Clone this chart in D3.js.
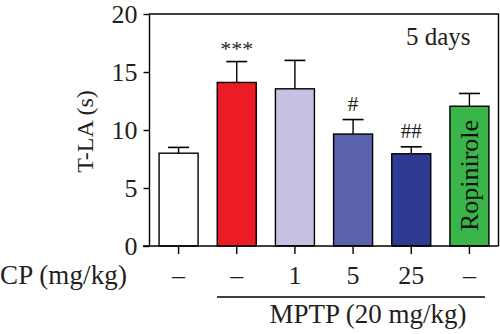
<!DOCTYPE html>
<html><head><meta charset="utf-8">
<script src="https://cdn.jsdelivr.net/npm/d3@7"></script>
<style>html,body{margin:0;padding:0;background:#fff;}svg{display:block;font-family:"Liberation Serif","DejaVu Serif",serif;}</style>
</head><body><svg id="c" width="500" height="334"></svg>
<script>
const groups = ["ctrl","mptp","cp1","cp5","cp25","ropi"];
const means = [8.0, 14.1, 13.55, 9.65, 7.95, 12.05];
const errs = [0.5, 1.8, 2.45, 1.25, 0.6, 1.1];
const colors = ["#ffffff","#ed1c24","#c5c3e1","#5a62ab","#2e3b92","#3ab54a"];
const cpLabels = ["–","–","1","5","25","–"];
const marks = ["","***","","#","##",""];
const yTicks = [0,5,10,15,20];

const svg = d3.select("#c");
const L=149.5, R=498.5, T=14, B=246;
const x = d3.scaleBand().domain(groups).range([L,R]).paddingInner(0).paddingOuter(0);
const y = d3.scaleLinear().domain([0,20]).range([B,T]);
const bw = 39;
const cx = g => x(g)+x.bandwidth()/2;
const ink = "#231f20";

// bars
svg.selectAll("rect.bar").data(groups).join("rect")
  .attr("x", g=>cx(g)-bw/2).attr("y",(g,i)=>y(means[i]))
  .attr("width",bw).attr("height",(g,i)=>B-y(means[i]))
  .attr("fill",(g,i)=>colors[i]).attr("stroke","#000").attr("stroke-width",1.4);

// error bars
groups.forEach((g,i)=>{
  const top=y(means[i]+errs[i]);
  svg.append("line").attr("x1",cx(g)).attr("x2",cx(g)).attr("y1",y(means[i])).attr("y2",top).attr("stroke","#000").attr("stroke-width",1.4);
  svg.append("line").attr("x1",cx(g)-10.5).attr("x2",cx(g)+10.5).attr("y1",top).attr("y2",top).attr("stroke","#000").attr("stroke-width",1.6);
});

// y axis
const ya = svg.append("g").attr("transform",`translate(${L},0)`)
  .call(d3.axisLeft(y).tickValues(yTicks).tickSize(6).tickPadding(6));
ya.select(".domain").remove();
ya.selectAll("line").attr("stroke","#000").attr("stroke-width",1.4);
ya.selectAll("text").attr("font-size",26).attr("font-family","Liberation Serif").attr("fill",ink);

// x axis ticks
const xa = svg.append("g").attr("transform",`translate(0,${B})`)
  .call(d3.axisBottom(x).tickSize(8).tickFormat(""));
xa.select(".domain").remove();
xa.selectAll("line").attr("stroke","#000").attr("stroke-width",1.4);

// frame
svg.append("path").attr("d",`M${L},${B}V${T}H${R}V${B}`).attr("fill","none").attr("stroke","#000").attr("stroke-width",1.4);
svg.append("line").attr("x1",143).attr("x2",R).attr("y1",B).attr("y2",B).attr("stroke","#000").attr("stroke-width",1.6);

// labels
svg.append("text").attr("transform","translate(93,131.5) rotate(-90)").attr("text-anchor","middle")
  .attr("font-size",24).attr("fill",ink).text("T-LA (s)");
svg.append("text").attr("x",406).attr("y",45).attr("font-size",25).attr("fill",ink).text("5 days");

groups.forEach((g,i)=>{
  if(marks[i]) svg.append("text").attr("x",cx(g)).attr("y",y(means[i]+errs[i])-(marks[i]==="***"?6:9))
    .attr("text-anchor","middle").attr("font-size",marks[i]==="***"?22:21).attr("fill",ink).text(marks[i]);
  svg.append("text").attr("x",cx(g)).attr("y",284).attr("text-anchor","middle").attr("font-size",26).attr("fill",ink).text(cpLabels[i]);
});
svg.append("text").attr("transform",`translate(${cx("ropi")+9},175.5) rotate(-90)`).attr("text-anchor","middle")
  .attr("font-size",26).attr("fill","#111").text("Ropinirole");

svg.append("text").attr("x",0).attr("y",284).attr("font-size",27).attr("textLength",127).attr("fill",ink).text("CP (mg/kg)");
svg.append("line").attr("x1",217).attr("x2",485).attr("y1",297).attr("y2",297).attr("stroke","#000").attr("stroke-width",1.4);
svg.append("text").attr("x",368).attr("y",323).attr("text-anchor","middle").attr("font-size",27).attr("fill",ink).text("MPTP (20 mg/kg)");
</script></body></html>
